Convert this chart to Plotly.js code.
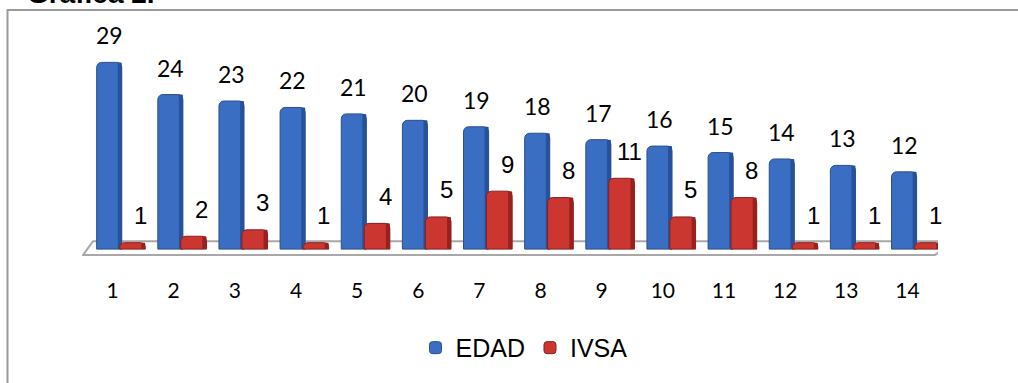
<!DOCTYPE html>
<html><head><meta charset="utf-8">
<script src="https://cdn.plot.ly/plotly-3.0.1.min.js"></script>
<style>html,body{margin:0;padding:0;background:#fff}#chart{width:1018px;height:383px}</style>
</head><body><div id="chart"></div>
<script>
// ---- data ----
const categories = [1, 2, 3, 4, 5, 6, 7, 8, 9, 10, 11, 12, 13, 14];
const tickLabels = ['1', '2', '3', '4', '5', '6', '7', '8', '9', '10', '11', '12', '13', '14'];
const edad = [29, 24, 23, 22, 21, 20, 19, 18, 17, 16, 15, 14, 13, 12];
const ivsa = [1, 2, 3, 1, 4, 5, 9, 8, 11, 5, 8, 1, 1, 1];
const seriesNames = ['EDAD', 'IVSA'];
const chartTitle = 'Gráfica 2.';

// ---- layout constants ----
const L = 82, PW = 856, T = 20, PH = 242, W = 1018, H = 383;
const BLUE_OFF = -0.26, BLUE_W = 0.41, RED_OFF = 0.115, RED_W = 0.42, EDGE_W = 0.065;
const pxX = px => (px - L) / PW;           // pixel -> paper x
const pxY = py => (T + PH - py) / PH;      // pixel -> paper y

const blueMain = '#3A6EC3', blueEdge = '#27529A';
const redMain = '#CB3630', redEdge = '#97221D';

const traces = [
  {type: 'bar', name: seriesNames[0], x: categories, y: edad,
   offset: BLUE_OFF, width: BLUE_W,
   marker: {color: blueMain, line: {color: '#2A4F8E', width: 1}, cornerradius: 5},
   hoverinfo: 'x+y+name'},
  {type: 'bar', name: seriesNames[0] + ' edge', x: categories, y: edad, showlegend: false,
   offset: BLUE_OFF + BLUE_W - EDGE_W, width: EDGE_W,
   marker: {color: blueEdge, line: {width: 0}, cornerradius: 2}, hoverinfo: 'skip'},
  {type: 'bar', name: seriesNames[1], x: categories, y: ivsa,
   offset: RED_OFF, width: RED_W,
   marker: {color: redMain, line: {color: '#8A1F1B', width: 1}, cornerradius: 5},
   hoverinfo: 'x+y+name'},
  {type: 'bar', name: seriesNames[1] + ' edge', x: categories, y: ivsa, showlegend: false,
   offset: RED_OFF + RED_W - EDGE_W, width: EDGE_W,
   marker: {color: redEdge, line: {width: 0}, cornerradius: 2}, hoverinfo: 'skip'}
];

const annotations = [];
categories.forEach((c, i) => {
  annotations.push({x: c + BLUE_OFF + BLUE_W / 2, y: edad[i], xref: 'x', yref: 'y',
    text: String(edad[i]), showarrow: false, yanchor: 'middle', yshift: 27,
    font: {family: 'Lato', size: 23, color: '#000'}});
  annotations.push({x: c + RED_OFF + RED_W / 2, y: ivsa[i], xref: 'x', yref: 'y',
    text: String(ivsa[i]), showarrow: false, yanchor: 'middle', yshift: 27, xshift: 8,
    font: {family: 'Liberation Sans', size: 24, color: '#000'}});
});
annotations.push({text: '<b>' + chartTitle + '</b>', xref: 'paper', yref: 'paper',
  x: pxX(25), y: pxY(11), xanchor: 'left', yanchor: 'bottom', showarrow: false,
  font: {family: 'Liberation Sans', size: 28, color: '#000'}});

const yPerPx = 1 / 6.52;
const layout = {
  width: W, height: H,
  margin: {l: L, r: W - L - PW, t: T, b: H - T - PH, pad: 0},
  paper_bgcolor: '#fff', plot_bgcolor: 'rgba(0,0,0,0)',
  barmode: 'overlay',
  showlegend: true,
  legend: {orientation: 'h', x: pxX(524), xanchor: 'center', y: pxY(352), yanchor: 'middle',
    font: {family: 'Liberation Sans', size: 25, color: '#000'}, itemwidth: 30,
    bgcolor: 'rgba(0,0,0,0)'},
  xaxis: {type: 'linear', range: [0.5, 14.5], tickmode: 'array', tickvals: categories, ticktext: tickLabels,
    showgrid: false, zeroline: false, showline: false, ticks: '',
    ticklabelstandoff: 17,
    tickfont: {family: 'Lato', size: 21, color: '#000'}, fixedrange: true},
  yaxis: {range: [-10 * yPerPx, (252 - T) * yPerPx], visible: false, showgrid: false, zeroline: false, fixedrange: true},
  shapes: [
    {type: 'rect', xref: 'paper', yref: 'paper', x0: pxX(7.5), x1: pxX(1040), y0: pxY(420), y1: pxY(10),
     line: {color: '#9A9A9A', width: 2}, fillcolor: 'rgba(0,0,0,0)', layer: 'below'},
    {type: 'path', xref: 'x', yref: 'y', layer: 'below',
     path: 'M 0.516,' + (-6 * yPerPx) + ' L 14.45,' + (-6 * yPerPx) + ' L 14.74,' + (8 * yPerPx) + ' L 0.68,' + (8 * yPerPx) + ' Z',
     line: {color: '#A8A8A8', width: 2}, fillcolor: 'rgba(0,0,0,0)'}
  ],
  annotations: annotations
};

Plotly.newPlot('chart', traces, layout, {displayModeBar: false, staticPlot: true});
</script></body></html>
